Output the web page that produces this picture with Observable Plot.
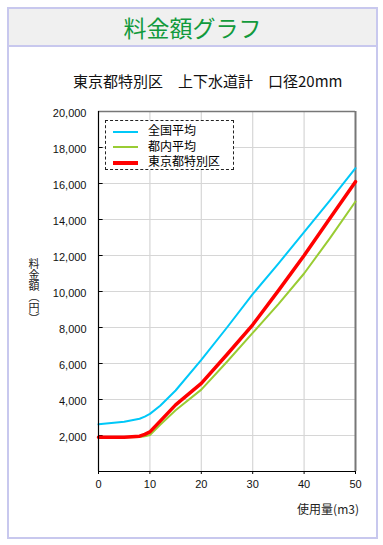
<!DOCTYPE html>
<html><head><meta charset="utf-8">
<script src="https://cdn.jsdelivr.net/npm/d3@7"></script>
<script src="https://cdn.jsdelivr.net/npm/@observablehq/plot@0.6"></script>
<style>
body{margin:0;width:383px;height:545px;position:relative;background:#fff;font-family:"Noto Sans CJK JP",sans-serif;overflow:hidden}
#frame{position:absolute;left:7px;top:7px;width:367px;height:528px;border:2px solid #c8c8ee;}
#banner{position:absolute;left:0;top:0;width:367px;height:36px;background:#f0f0f0;border-bottom:2px solid #c8c8ee;text-align:center;font-size:23px;line-height:36px;color:#129a3c}
#sub{position:absolute;left:73px;top:72px;font-size:15px;line-height:18px;color:#111;white-space:nowrap}
#chart{position:absolute;left:0;top:90px}
#ylab{position:absolute;left:26px;top:258px;font-size:11px;writing-mode:vertical-rl;text-orientation:upright;color:#222;letter-spacing:0}
#xlab{position:absolute;right:24px;top:500px;font-size:12px;color:#222;white-space:nowrap}
#legend{position:absolute;left:105px;top:120px;width:127px;height:48px;border:1px dashed #222;background:#fff;font-size:12px}
.row{position:absolute;left:7px;height:14px;line-height:14px;white-space:nowrap}
.sw{display:inline-block;width:25px;vertical-align:middle;margin-right:10px}
</style></head>
<body>
<div id="frame"><div id="banner">料金額グラフ</div></div>
<div id="sub">東京都特別区　上下水道計　口径20mm</div>
<div id="chart"></div>
<div id="ylab">料金額（円）</div>
<div id="xlab">使用量(m3)</div>
<div id="legend"></div>
<script>
const usage = [0,5,8,9,10,12,15,20,25,30,35,40,45,50];
const national = [2620,2760,2930,3050,3200,3650,4500,6200,8000,9850,11550,13300,15050,16850];
const tokyoAvg = [1900,1900,1920,1960,2030,2600,3400,4550,6100,7700,9300,11000,12950,15000];
const wards = [1900,1900,1960,2060,2200,2800,3700,4900,6500,8150,10050,12000,14050,16100];
const seriesNames = ["全国平均","都内平均","東京都特別区"];
const seriesColors = ["#00c8f8","#99cc33","#ff0000"];
const seriesWidths = [2,2,3.5];
const xTicks = [0,10,20,30,40,50];
const yTicks = [2000,4000,6000,8000,10000,12000,14000,16000,18000,20000];

const seriesValues = [national, tokyoAvg, wards];
const rows = [];
seriesValues.forEach((vals,i)=>vals.forEach((v,j)=>rows.push({s:seriesNames[i],x:usage[j],y:v})));

const fmt = d3.format(",");
const plot = Plot.plot({
  width:383, height:420,
  marginLeft:98, marginRight:28, marginTop:21, marginBottom:39,
  style:{fontFamily:"'Liberation Sans', Arial, sans-serif", fontSize:"11px", color:"#111", background:"transparent"},
  x:{domain:[0,50]},
  y:{domain:[0,20000]},
  marks:[
    Plot.ruleX([10,20,30,40], {stroke:"#d6d6d6", strokeWidth:1.2}),
    Plot.ruleY(yTicks.slice(0,-1), {stroke:"#d6d6d6", strokeWidth:1.2}),
    Plot.ruleY([20000], {stroke:"#777", strokeWidth:1.5}),
    Plot.ruleX([50], {stroke:"#777", strokeWidth:2}),
    Plot.ruleY(yTicks.slice(0,-1), {x1:0, x2:0.9, stroke:"#000"}),
    Plot.axisX({ticks:xTicks, tickSize:3, tickPadding:6, tickFormat:d=>String(d), label:null, stroke:"#000"}),
    Plot.axisY({ticks:yTicks, tickSize:0, tickPadding:12, tickFormat:fmt, label:null, dy:2}),
    ...seriesNames.map((n,i)=>Plot.line(rows.filter(r=>r.s===n), {x:"x", y:"y", stroke:seriesColors[i], strokeWidth:seriesWidths[i]})),
    Plot.ruleX([0], {stroke:"#000", strokeWidth:1.2}),
    Plot.ruleY([0], {stroke:"#000", strokeWidth:1.2})
  ]
});
document.getElementById("chart").appendChild(plot);

const lg = document.getElementById("legend");
seriesNames.forEach((n,i)=>{
  const r = document.createElement("div");
  r.className="row"; r.style.top=(2+i*15.5)+"px";
  r.innerHTML = `<span class="sw" style="border-top:${seriesWidths[i]+0.5}px solid ${seriesColors[i]}"></span>${n}`;
  lg.appendChild(r);
});
</script>
</body></html>
